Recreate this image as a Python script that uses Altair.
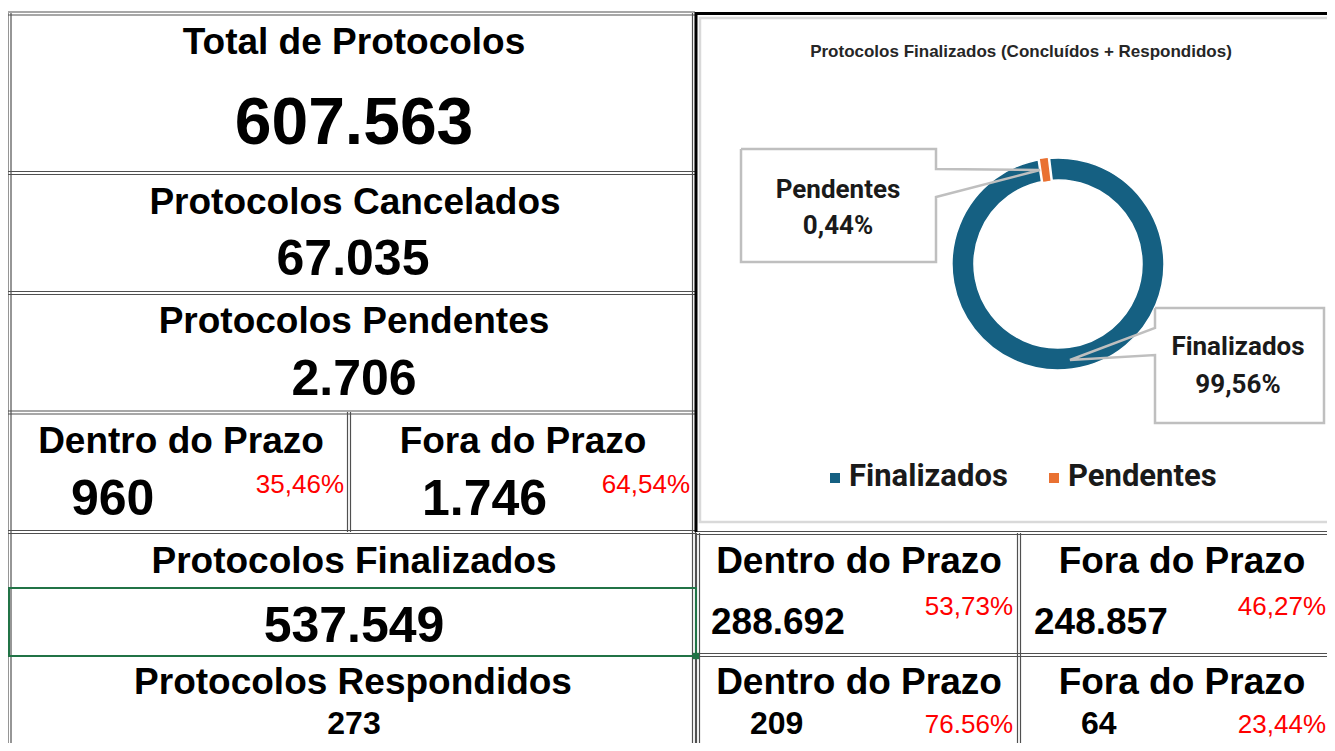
import math
import altair as alt
import pandas as pd

# ---------------- data ----------------
TOTAL = 607563
CANCELADOS = 67035
PENDENTES = 2706
PEND_SPLIT = [960, 1746]
PEND_PCT = ["35,46%", "64,54%"]
FINALIZADOS = 537549
FIN_SPLIT = [288692, 248857]
FIN_PCT = ["53,73%", "46,27%"]
RESPONDIDOS = 273
RESP_SPLIT = [209, 64]
RESP_PCT = ["76.56%", "23,44%"]
PRAZO = ["Dentro do Prazo", "Fora do Prazo"]
DONUT_CATS = ["Finalizados", "Pendentes"]
DONUT_PCT = [99.56, 0.44]
DONUT_COLORS = ["#156082", "#E97132"]
CHART_TITLE = "Protocolos Finalizados (Concluídos + Respondidos)"


def br(n):
    return f"{n:,}".replace(",", ".")


def pct(v):
    return f"{v:.2f}".replace(".", ",") + "%"


# ---------------- canvas (page pixel coordinates) ----------------
W, H = 1319, 735
XS = alt.Scale(domain=[8, 8 + W], nice=False, zero=False)
YS = alt.Scale(domain=[8, 8 + H], nice=False, zero=False, reverse=True)


def X(f="x"):
    return alt.X(f"{f}:Q", scale=XS, axis=None)


def Y(f="y"):
    return alt.Y(f"{f}:Q", scale=YS, axis=None)


# ---------------- cell borders (double lines) ----------------
H_LINES = [(13.5, 8, 695), (173, 8, 695), (293, 8, 695), (412.5, 8, 695),
           (532, 8, 695), (533, 697, 1335), (655, 697, 1335)]
V_LINES = [(9.5, 13, 751), (694, 13, 751), (349, 412, 532),
           (698, 533, 751), (1019, 533, 751)]
seg = []
for y, a, b in H_LINES:
    for d in (-1.5, 1.5):
        seg.append(dict(x=a, x2=b, y=y + d, y2=y + d, c="#505050", w=1.2))
for x, a, b in V_LINES:
    for d in (-1.5, 1.5):
        seg.append(dict(x=x + d, x2=x + d, y=a, y2=b, c="#505050", w=1.2))
# chart frame
seg.append(dict(x=695, x2=1335, y=13.5, y2=13.5, c="#000000", w=3))
seg.append(dict(x=696, x2=696, y=12, y2=532, c="#000000", w=3))
seg_df = pd.DataFrame(seg)

rules = alt.Chart(seg_df).mark_rule().encode(
    x=X(), x2="x2:Q", y=Y(), y2="y2:Q",
    color=alt.Color("c:N", scale=None),
    strokeWidth=alt.StrokeWidth("w:Q", scale=None),
)

boxes_df = pd.DataFrame([
    dict(x=700, x2=1345, y=18, y2=522, c="#D9D9D9", w=2.5),
    dict(x=9, x2=696, y=588, y2=656, c="#217346", w=2),
])
boxes = alt.Chart(boxes_df).mark_rect(fillOpacity=0).encode(
    x=X(), x2="x2:Q", y=Y(), y2="y2:Q",
    stroke=alt.Stroke("c:N", scale=None),
    strokeWidth=alt.StrokeWidth("w:Q", scale=None),
)
handle = alt.Chart(pd.DataFrame([dict(x=696, y=656)])).mark_square(
    size=40, color="#217346", opacity=1, filled=True).encode(x=X(), y=Y())

# ---------------- donut ----------------
donut_df = pd.DataFrame(dict(cat=DONUT_CATS, pct=DONUT_PCT,
                             color=DONUT_COLORS, order=[0, 1]))
ROT = 0.12
TS = alt.Scale(domain=[0, 100], range=[-ROT, 2 * math.pi - ROT])
CX, CY = 1058, 264
base_arc = alt.Chart(donut_df).transform_stack(
    stack="pct", groupby=[], as_=["t0", "t1"], sort=[alt.SortField("order")]
).encode(
    theta=alt.Theta("t0:Q", scale=TS),
    theta2="t1:Q",
    x=alt.X(datum=CX, scale=XS, axis=None),
    y=alt.Y(datum=CY, scale=YS, axis=None),
)
arc_all = base_arc.mark_arc(outerRadius=106, innerRadius=84, stroke="white",
                            strokeWidth=1.5).encode(
    color=alt.Color("color:N", scale=None))
arc_gap = base_arc.transform_filter(alt.datum.cat == "Pendentes").mark_arc(
    outerRadius=106, innerRadius=84, fill="white", stroke="white", strokeWidth=10)
arc_pend = base_arc.transform_filter(alt.datum.cat == "Pendentes").mark_arc(
    outerRadius=104, innerRadius=86, strokeWidth=5).encode(
    color=alt.Color("color:N", scale=None),
    stroke=alt.Stroke("color:N", scale=None))

# ---------------- callouts ----------------
CALLOUTS = {
    "Pendentes": [(741, 149), (936, 149), (936, 169), (1040, 170), (936, 197),
                  (936, 262), (741, 262), (741, 149)],
    "Finalizados": [(1155, 308), (1324, 308), (1324, 423), (1155, 423),
                    (1155, 355), (1070, 360), (1155, 328), (1155, 308)],
}
co_rows = []
for k, pts in CALLOUTS.items():
    for i, (x, y) in enumerate(pts):
        co_rows.append(dict(id=k, i=i, x=x, y=y))
callout_lines = alt.Chart(pd.DataFrame(co_rows)).mark_line(
    color="#BFBFBF", strokeWidth=2.5).encode(
    x=X(), y=Y(), detail="id:N", order="i:Q")

LABEL_POS = {"Pendentes": (838, 198, 234), "Finalizados": (1238, 355, 393)}
lab_rows = []
for cat, v in zip(DONUT_CATS, DONUT_PCT):
    x, y1, y2 = LABEL_POS[cat]
    lab_rows.append(dict(t=cat, x=x, y=y1))
    lab_rows.append(dict(t=pct(v), x=x, y=y2))
callout_text = alt.Chart(pd.DataFrame(lab_rows)).mark_text(
    font="Roboto", fontWeight="bold", fontSize=26, align="center",
    baseline="alphabetic", color="#1a1a1a").encode(x=X(), y=Y(), text="t:N")

# legend
LEG_X = [835, 1054]
leg_df = pd.DataFrame(dict(cat=DONUT_CATS, color=DONUT_COLORS, x=LEG_X,
                           tx=[v + 14 for v in LEG_X], y=[478, 478], ty=[486, 486]))
leg_sq = alt.Chart(leg_df).mark_square(size=100, filled=True, opacity=1).encode(
    x=X(), y=Y(), color=alt.Color("color:N", scale=None))
leg_tx = alt.Chart(leg_df).mark_text(
    font="Roboto", fontWeight="bold", fontSize=31, align="left",
    baseline="alphabetic", color="#1a1a1a").encode(x=X("tx"), y=Y("ty"), text="cat:N")

title = alt.Chart(pd.DataFrame([dict(t=CHART_TITLE, x=1021, y=57)])).mark_text(
    font="Liberation Sans", fontWeight="bold", fontSize=17, align="center",
    baseline="alphabetic", color="#262626").encode(x=X(), y=Y(), text="t:N")

# ---------------- table texts ----------------
center_rows = [
    ("Total de Protocolos", 354, 54, 37),
    (br(TOTAL), 354, 144, 66),
    ("Protocolos Cancelados", 355, 214, 37),
    (br(CANCELADOS), 353, 275, 50),
    ("Protocolos Pendentes", 354, 333, 37),
    (br(PENDENTES), 354, 395, 50),
    (PRAZO[0], 181, 453, 37),
    (PRAZO[1], 523, 453, 37),
    ("Protocolos Finalizados", 354, 573, 37),
    (br(FINALIZADOS), 354, 642, 50),
    ("Protocolos Respondidos", 353, 694, 37),
    (br(RESPONDIDOS), 354, 734, 32),
    (PRAZO[0], 859, 573, 37),
    (PRAZO[1], 1182, 573, 37),
    (PRAZO[0], 859, 694, 37),
    (PRAZO[1], 1182, 694, 37),
]
left_rows = [
    (br(PEND_SPLIT[0]), 71, 515, 50),
    (br(PEND_SPLIT[1]), 422, 515, 50),
    (br(FIN_SPLIT[0]), 711, 634, 37),
    (br(FIN_SPLIT[1]), 1034, 634, 37),
    (br(RESP_SPLIT[0]), 750, 734, 32),
    (br(RESP_SPLIT[1]), 1081, 734, 32),
]
right_rows = [
    (PEND_PCT[0], 344, 493, 26),
    (PEND_PCT[1], 690, 493, 26),
    (FIN_PCT[0], 1013, 615, 26),
    (FIN_PCT[1], 1326, 615, 26),
    (RESP_PCT[0], 1013, 733, 26),
    (RESP_PCT[1], 1326, 733, 26),
]


def text_layer(rows, align, weight, color):
    df = pd.DataFrame(rows, columns=["t", "x", "y", "s"])
    return alt.Chart(df).mark_text(
        font="Liberation Sans", fontWeight=weight, align=align,
        baseline="alphabetic", color=color).encode(
        x=X(), y=Y(), text="t:N", size=alt.Size("s:Q", scale=None))


t_center = text_layer(center_rows, "center", "bold", "#000000")
t_left = text_layer(left_rows, "left", "bold", "#000000")
t_right = text_layer(right_rows, "right", "normal", "#FF0000")

chart = alt.layer(
    rules, boxes, handle,
    arc_all, arc_gap, arc_pend,
    callout_lines, callout_text, leg_sq, leg_tx, title,
    t_center, t_left, t_right,
).properties(
    width=W, height=H, padding=0, background="white",
    autosize=alt.AutoSizeParams(type="none"),
).configure_view(strokeWidth=0)

chart.save("out.html", embed_options={"renderer": "svg", "actions": False})
